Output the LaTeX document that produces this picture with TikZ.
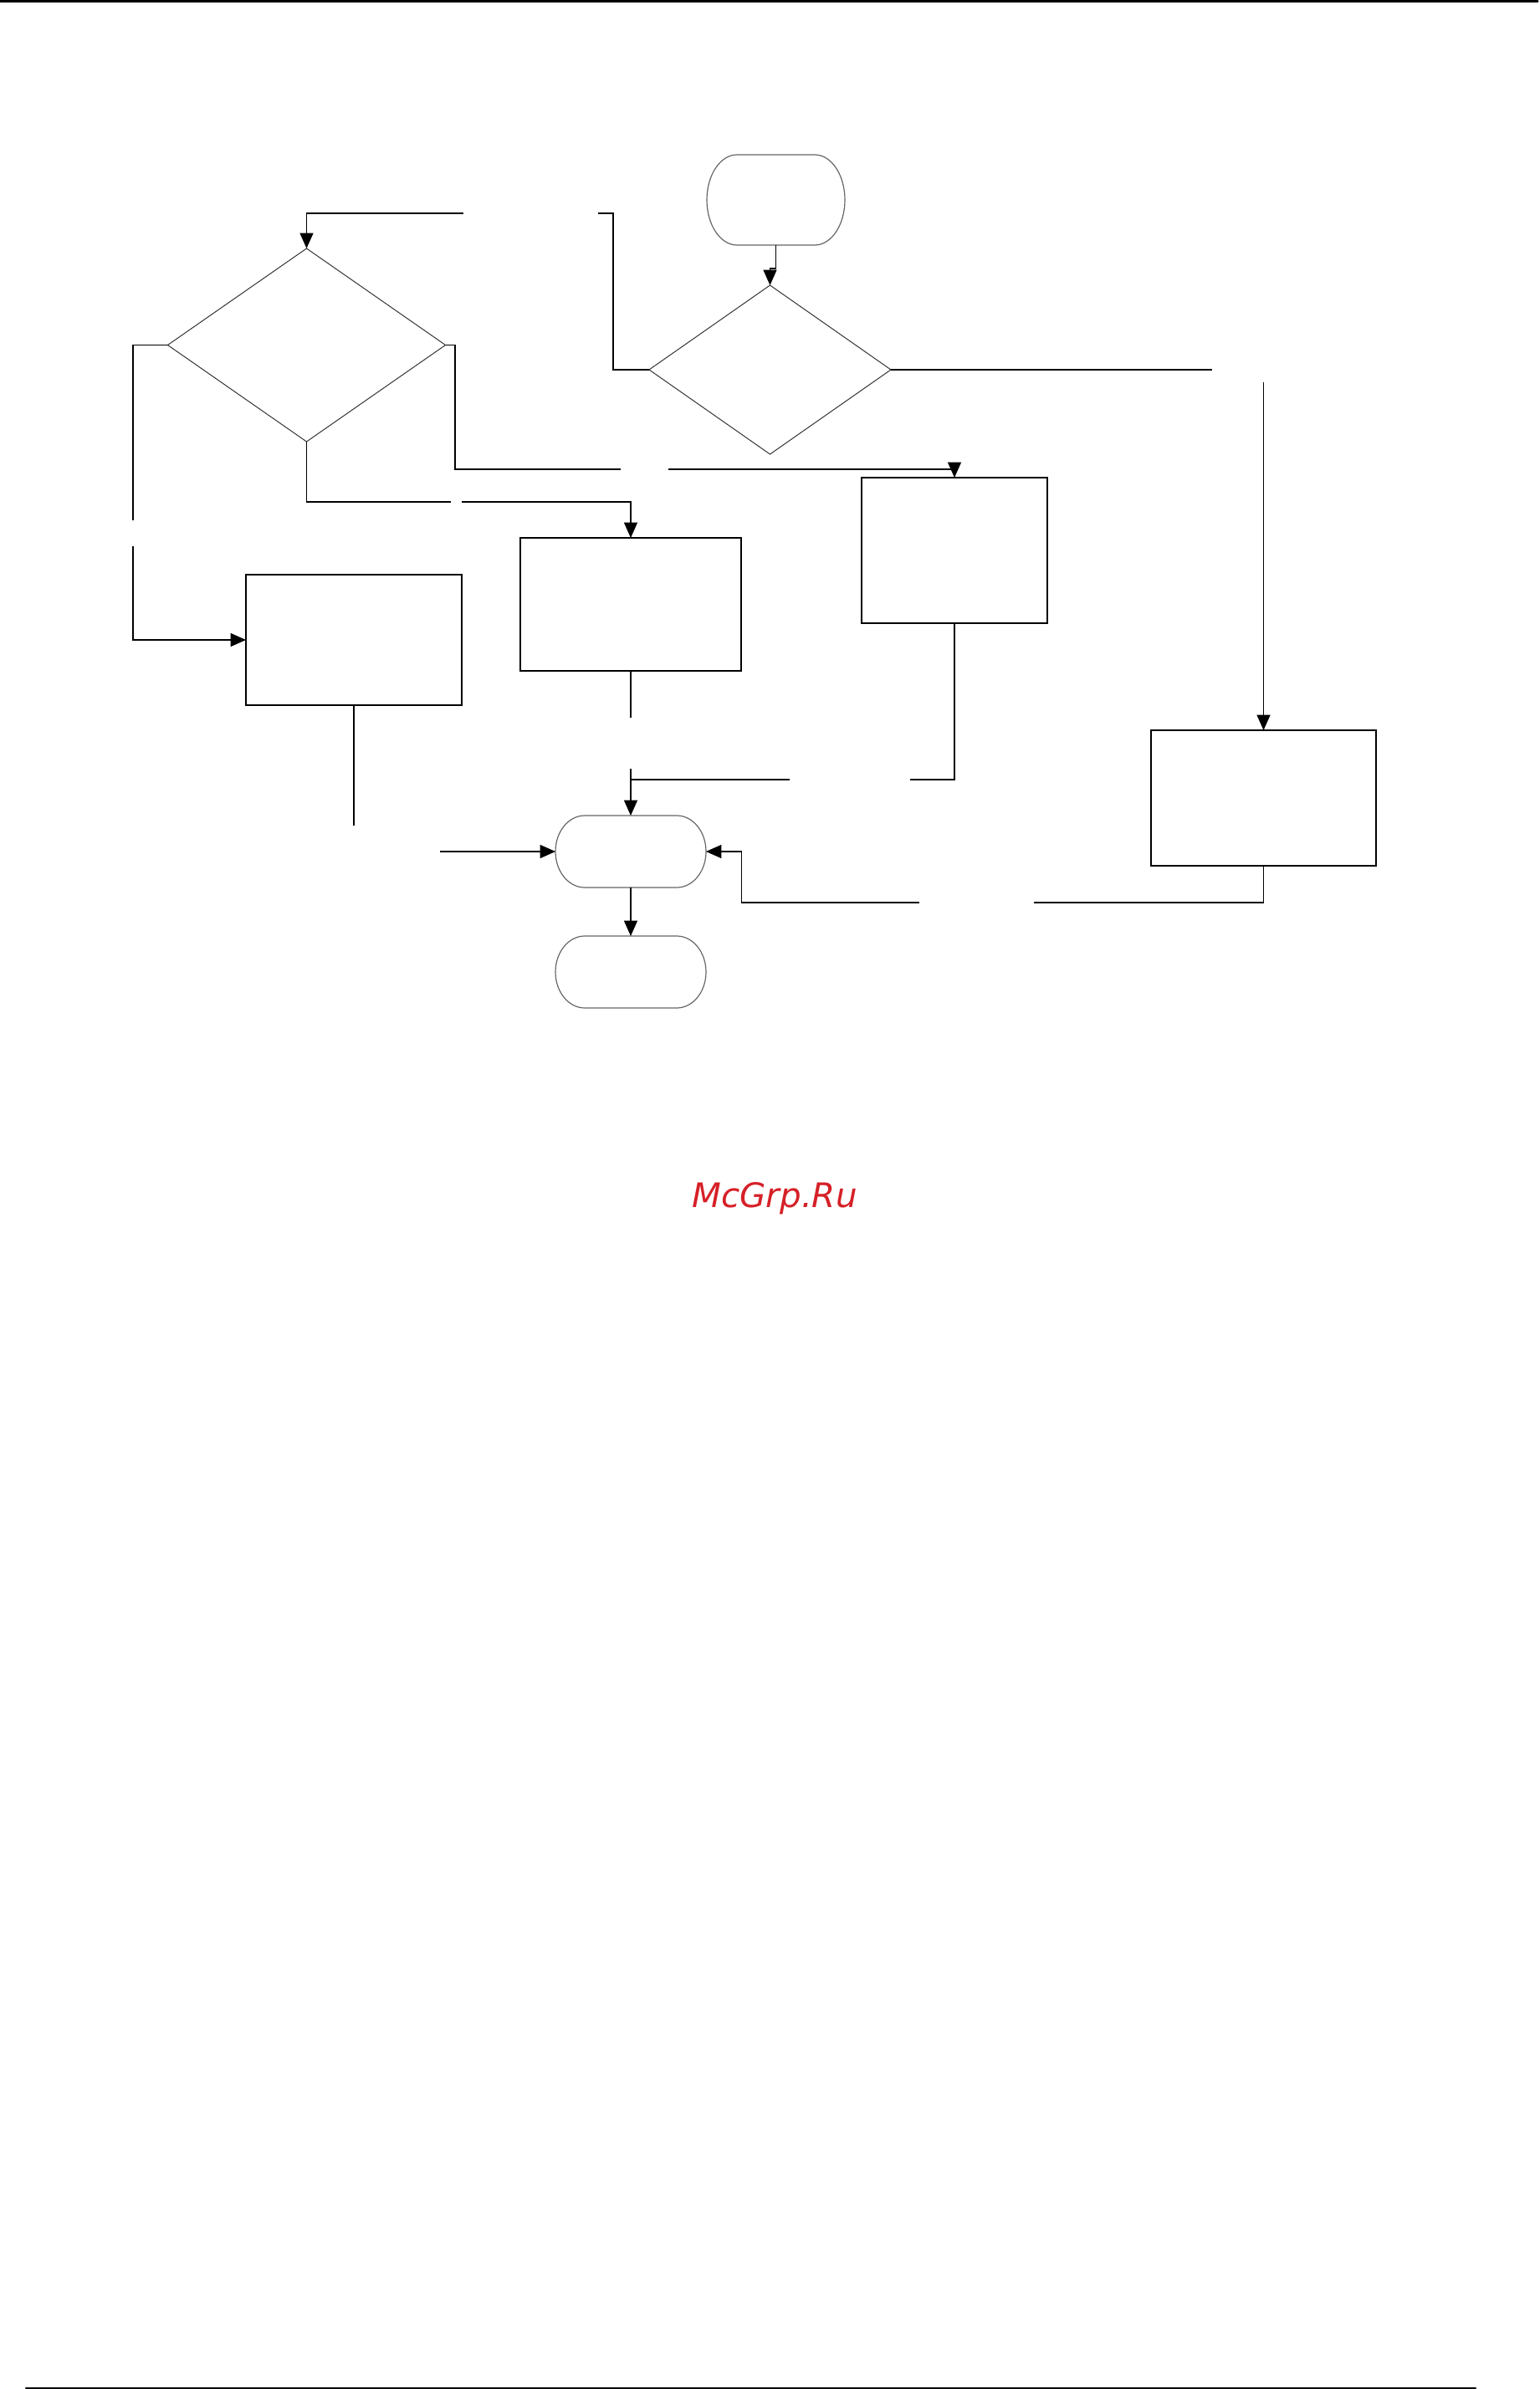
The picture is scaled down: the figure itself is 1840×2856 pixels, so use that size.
\documentclass[tikz,border=0pt]{standalone}
\usepackage{fontspec}
\newfontfamily\wmfont{DejaVu Sans}
\usetikzlibrary{arrows.meta,shapes.geometric,calc}
\definecolor{wmred}{RGB}{214,32,39}
\newcommand{\termdraw}[3]{%
  \draw[termline] ($(#1.north west)+(#2,0pt)$) -- ($(#1.north east)-(#2,0pt)$)
    arc[start angle=90,end angle=-90,x radius=#2,y radius=#3]
    -- ($(#1.south west)+(#2,0pt)$)
    arc[start angle=270,end angle=90,x radius=#2,y radius=#3] -- cycle;}
\begin{document}
\begin{tikzpicture}[x=0.25pt,y=-0.25pt,
  conn/.style={line width=0.35pt, draw=black},
  arr/.style={conn,-{Triangle[length=4.6pt,width=4pt]}},
  procbox/.style={draw=black, line width=0.35pt, rectangle, inner sep=0pt, outer sep=0pt},
  decision/.style={draw=black!80, line width=0.25pt, diamond, inner sep=0pt, outer sep=0pt},
  termbox/.style={draw=none, rectangle, inner sep=0pt, outer sep=0pt},
  termline/.style={draw=black!60, line width=0.3pt},
  rulerline/.style={draw=black, line cap=round}
]
\useasboundingbox (0,0) rectangle (1840,2856);

% page rules
\draw[rulerline, line width=0.75pt] (0,1.5) -- (1838,1.5);
\draw[rulerline, line width=0.6pt] (31,2855) -- (1764,2855);

% nodes
\node[termbox, minimum width=41.25pt, minimum height=27pt] (S) at (927.5,239) {};
\termdraw{S}{9pt}{13.5pt}
\node[decision, minimum width=72.25pt, minimum height=50.5pt] (D2) at (920.5,442) {};
\node[decision, minimum width=83pt, minimum height=57.75pt] (D1) at (366.5,412.5) {};
\node[procbox, minimum width=64.5pt, minimum height=39pt] (LB) at (423,765) {};
\node[procbox, minimum width=66pt, minimum height=39.75pt] (MB) at (754,722.5) {};
\node[procbox, minimum width=55.5pt, minimum height=43.5pt] (RB) at (1141,658) {};
\node[procbox, minimum width=67.25pt, minimum height=40.5pt] (FR) at (1510.5,954) {};
\node[termbox, minimum width=45pt, minimum height=21.5pt] (E1) at (754,1018) {};
\termdraw{E1}{8.75pt}{10.75pt}
\node[termbox, minimum width=45pt, minimum height=21.5pt] (E2) at (754,1162) {};
\termdraw{E2}{8.75pt}{10.75pt}

% coordinates (bends and gap ends)
\coordinate (k1) at (733,255);
\coordinate (g1) at (715,255);
\coordinate (g2) at (554,255);
\coordinate (g3) at (159,622);
\coordinate (g4) at (159,653);
\coordinate (g5) at (539,600);
\coordinate (g6) at (552,600);
\coordinate (k2) at (544,561);
\coordinate (g7) at (742,561);
\coordinate (g8) at (799,561);
\coordinate (g9) at (1449,442);
\coordinate (g10) at (1510.5,457);
\coordinate (g11) at (423,987);
\coordinate (g12) at (526,1018);
\coordinate (g13) at (754,858);
\coordinate (g14) at (754,919);
\coordinate (g15) at (1088,932);
\coordinate (g16) at (943.5,932);
\coordinate (j1) at (754,932);
\coordinate (g17) at (1236,1079);
\coordinate (g18) at (1099,1079);
\coordinate (k4) at (886.5,1018);

% connectors
\draw[arr] (S.south) -- ++(0,28) -| (D2.north);
\draw[conn] (D2.west) -| (k1) -- (g1);
\draw[arr] (g2) -| (D1.north);
\draw[conn] (D1.west) -| (g3);
\draw[arr] (g4) |- (LB.west);
\draw[conn] (D1.south) |- (g5);
\draw[arr] (g6) -| (MB.north);
\draw[conn] (D1.east) -| (k2) -- (g7);
\draw[arr] (g8) -| (RB.north);
\draw[conn] (D2.east) -- (g9);
\draw[arr] (g10) -- (FR.north);
\draw[conn] (LB.south) -- (g11);
\draw[arr] (g12) -- (E1.west);
\draw[conn] (MB.south) -- (g13);
\draw[arr] (g14) -- (E1.north);
\draw[conn] (RB.south) |- (g15);
\draw[conn] (g16) -- (j1);
\draw[conn] (FR.south) |- (g17);
\draw[arr] (g18) -| (k4) -- (E1.east);
\draw[arr] (E1.south) -- (E2.north);

% watermark
\node[font=\wmfont\itshape\fontsize{10.1pt}{12pt}\selectfont, text=wmred, anchor=base, inner sep=0pt] (wm) at (926,1443) {McGrp.Ru};
\end{tikzpicture}
\end{document}
